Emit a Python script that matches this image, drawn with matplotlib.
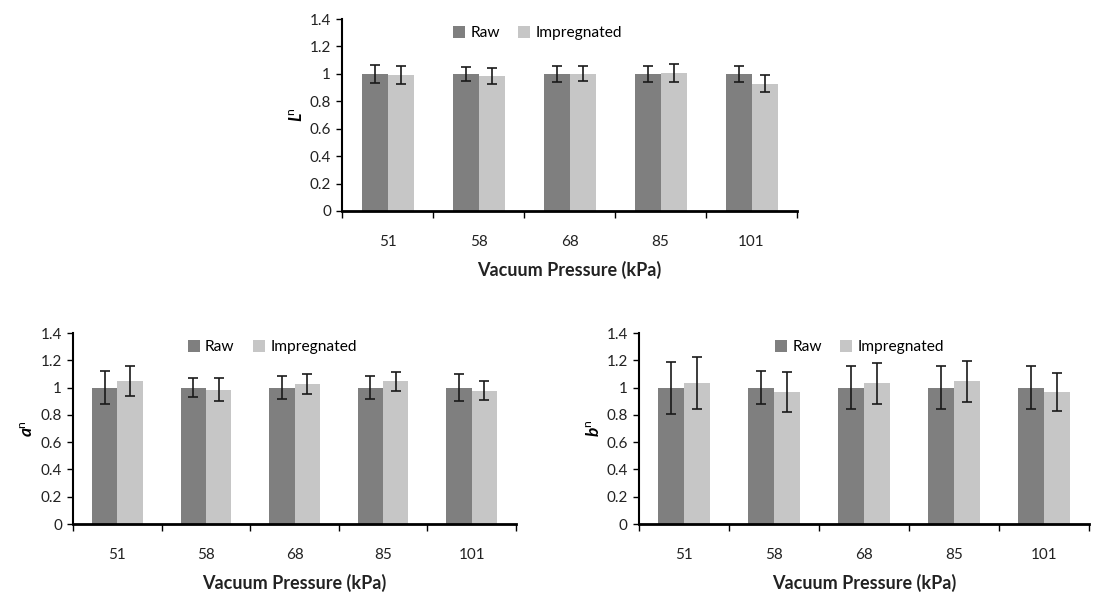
import matplotlib
matplotlib.use("Agg")
import matplotlib.pyplot as plt
import numpy as np

plt.rcParams['font.family'] = ['Lato', 'DejaVu Sans']
plt.rcParams['mathtext.fontset'] = 'custom'
plt.rcParams['mathtext.it'] = 'Lato:italic:bold'
plt.rcParams['mathtext.rm'] = 'Lato'

pressures = ['51', '58', '68', '85', '101']
series = ['Raw', 'Impregnated']

L_raw = [1.0, 1.0, 1.0, 1.0, 1.0]
L_raw_err = [0.068, 0.05, 0.06, 0.06, 0.058]
L_imp = [0.99, 0.983, 1.0, 1.007, 0.929]
L_imp_err = [0.065, 0.058, 0.055, 0.065, 0.06]

a_raw = [1.0, 1.0, 1.0, 1.0, 1.0]
a_raw_err = [0.12, 0.068, 0.087, 0.083, 0.1]
a_imp = [1.045, 0.985, 1.025, 1.045, 0.978]
a_imp_err = [0.11, 0.085, 0.075, 0.073, 0.068]

b_raw = [1.0, 1.0, 1.0, 1.0, 1.0]
b_raw_err = [0.19, 0.12, 0.155, 0.155, 0.155]
b_imp = [1.032, 0.965, 1.032, 1.047, 0.966]
b_imp_err = [0.19, 0.147, 0.152, 0.15, 0.138]

RAW_C = '#7f7f7f'
IMP_C = '#c6c6c6'


def draw_panel(ax, raw, raw_err, imp, imp_err, ylab, leg_x):
    x = np.arange(len(pressures))
    w = 1 / 3.5
    ax.bar(x - w / 2, raw, w, color=RAW_C, label=series[0], zorder=2)
    ax.bar(x + w / 2, imp, w, color=IMP_C, label=series[1], zorder=2)
    ek = dict(fmt='none', ecolor='#1a1a1a', elinewidth=1.2, capsize=3.5, capthick=1.2, zorder=3)
    ax.errorbar(x - w / 2, raw, yerr=raw_err, **ek)
    ax.errorbar(x + w / 2, imp, yerr=imp_err, **ek)
    ax.set_xlim(-0.5, len(pressures) - 0.5)
    ax.set_ylim(0, 1.4)
    ax.set_yticks(np.arange(0, 1.41, 0.2))
    ax.set_yticklabels(['0', '0.2', '0.4', '0.6', '0.8', '1', '1.2', '1.4'])
    ax.set_xticks(x)
    ax.set_xticklabels(pressures)
    ax.set_xticks(np.arange(-0.5, len(pressures)), minor=True)
    ax.tick_params(axis='x', which='major', length=0, pad=17, labelsize=11, labelcolor='#222222')
    ax.tick_params(axis='x', which='minor', length=5, width=1, direction='out')
    ax.tick_params(axis='y', length=4, width=1, direction='out', labelsize=11,
                   colors='black', labelcolor='#222222', pad=4)
    ax.spines['top'].set_visible(False)
    ax.spines['right'].set_visible(False)
    ax.spines['left'].set_linewidth(1.5)
    ax.spines['bottom'].set_linewidth(2)
    ax.set_xlabel('Vacuum Pressure (kPa)', fontsize=13, fontweight='bold', labelpad=9, color='#222222')
    ax.set_ylabel(ylab, fontsize=12.5, labelpad=3)
    ax.legend(loc='upper center', bbox_to_anchor=(leg_x, 1.035), ncol=2, frameon=False,
              fontsize=11.2, handlelength=0.75, handleheight=0.75, handletextpad=0.35,
              columnspacing=1.2)


fig = plt.figure(figsize=(10.93, 5.94), dpi=100)
ax1 = fig.add_axes([0.3129, 0.6448, 0.4163, 0.3232])
ax2 = fig.add_axes([0.0668, 0.1178, 0.4053, 0.3215])
ax3 = fig.add_axes([0.5846, 0.1178, 0.4117, 0.3215])

draw_panel(ax1, L_raw, L_raw_err, L_imp, L_imp_err, r'$L^{\!\!\mathrm{n}}$', 0.43)
draw_panel(ax2, a_raw, a_raw_err, a_imp, a_imp_err, r'$a^{\!\mathrm{n}}$', 0.45)
draw_panel(ax3, b_raw, b_raw_err, b_imp, b_imp_err, r'$b^{\!\mathrm{n}}$', 0.49)

fig.savefig('out.png', dpi=100)
